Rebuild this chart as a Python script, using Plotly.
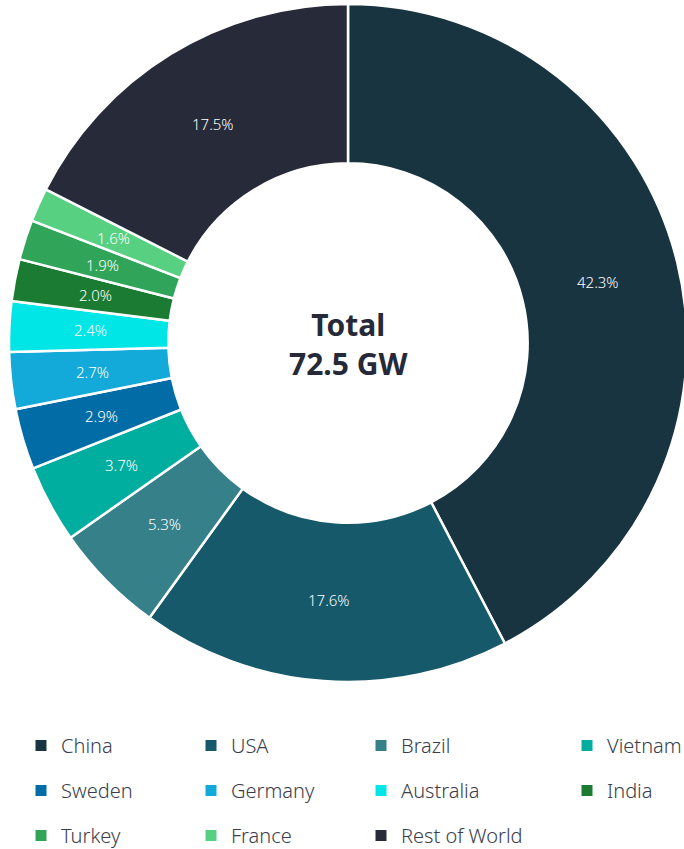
import math
import plotly.graph_objects as go

# ---- data ----
countries = ["China", "USA", "Brazil", "Vietnam", "Sweden", "Germany",
             "Australia", "India", "Turkey", "France", "Rest of World"]
share_pct = [42.3, 17.6, 5.3, 3.7, 2.9, 2.7, 2.4, 2.0, 1.9, 1.6, 17.5]
colors = ["#183440", "#15596b", "#358089", "#00ae9f", "#026ca6", "#13a9d9",
          "#00e6e6", "#1b7b33", "#30a55a", "#58d082", "#272a38"]
total_label = "Total<br>72.5 GW"

# the original chart is slightly wider than the window and clipped on the right
W, H = 692, 849
cx, cy, r = 348, 343, 339          # in figure pixels
hole = 0.53

fig = go.Figure()
fig.add_trace(go.Pie(
    labels=countries, values=share_pct, sort=False, direction="clockwise",
    rotation=0, hole=hole,
    marker=dict(colors=colors, line=dict(color="white", width=2.5)),
    textinfo="none",
    hoverinfo="label+percent", showlegend=False,
    domain=dict(x=[max(0, (cx - r) / W), min(1, (cx + r) / W)],
                y=[max(0, 1 - (cy + r) / H), min(1, 1 - (cy - r) / H)]),
))

# slice labels at the middle of each ring segment (derived from the shares)
annotations = []
total = sum(share_pct)
r_mid = r * (1 + hole) / 2 - 2
cum = 0.0
for v in share_pct:
    ang = 2 * math.pi * (cum + v / 2) / total
    cum += v
    px = cx + r_mid * math.sin(ang)
    py = cy - r_mid * math.cos(ang)
    annotations.append(dict(
        text=f"{v:.1f}%", x=px / W, y=1 - py / H, xref="paper", yref="paper",
        showarrow=False, xanchor="center", yanchor="middle",
        font=dict(family="Noto Sans", size=15, color="white", weight=300),
    ))

annotations.append(dict(
    text=f"<b>{total_label}</b>", x=cx / W, y=1 - (cy + 1) / H,
    xref="paper", yref="paper", showarrow=False,
    font=dict(family="Noto Sans", size=30, color="#262a38"),
))

# legend: 4 columns, built from the same category/colour lists
col_x = [21, 191, 361, 567]
legend_top = 726
for i, (name, col) in enumerate(zip(countries, colors)):
    k = i % 4
    lg = "legend" if k == 0 else f"legend{k+1}"
    fig.add_trace(go.Scatter(
        x=[None], y=[None], mode="markers", name=name,
        marker=dict(symbol="square", size=11, color=col),
        legend=lg, legendgroup=name, showlegend=True, hoverinfo="skip",
    ))

legend_common = dict(
    orientation="v", xanchor="left", yanchor="top", traceorder="grouped",
    tracegroupgap=16, itemsizing="trace", bgcolor="rgba(0,0,0,0)",
    font=dict(family="Noto Sans", size=20, color="#3a3d4a", weight=300),
    itemclick=False, itemdoubleclick=False,
)
layouts = {}
for k in range(4):
    key = "legend" if k == 0 else f"legend{k+1}"
    layouts[key] = dict(legend_common, x=col_x[k] / W, y=1 - legend_top / H)

fig.update_layout(
    width=W, height=H,
    margin=dict(l=0, r=0, t=0, b=0, autoexpand=False),
    paper_bgcolor="white", plot_bgcolor="white",
    xaxis=dict(visible=False), yaxis=dict(visible=False),
    annotations=annotations,
    **layouts,
)

fig.write_html(
    "out.html",
    config={"displayModeBar": False},
    post_script="document.body.style.margin='0';document.body.style.overflow='hidden';",
)
